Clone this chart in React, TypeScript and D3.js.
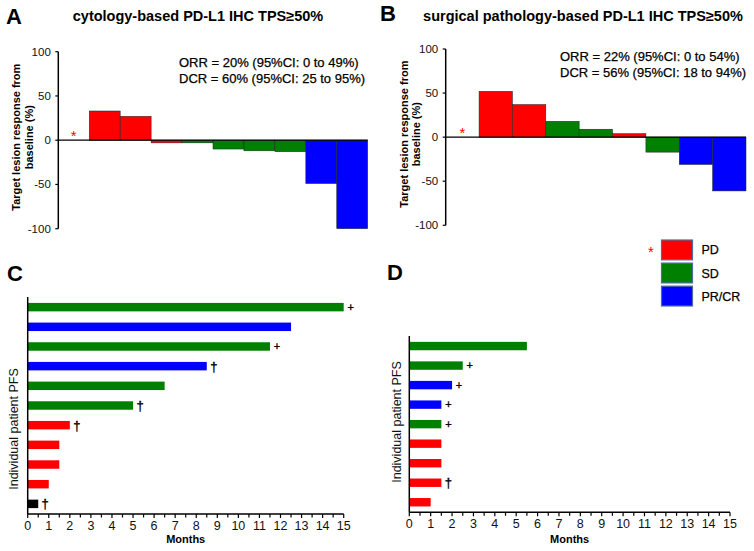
import React from 'react';
import * as d3 from 'd3';

const W = 754;
const H = 551;
const FONT = "'Liberation Sans', Arial, Helvetica, sans-serif";

// ---- Data ----
const responseTypes = ['PD', 'SD', 'PR', 'NE'];
const responseColors = ['#ff0000', '#008000', '#0000ff', '#000000'];
const legendLabels = ['PD', 'SD', 'PR/CR'];

// Panel A (cytology-based), null = PD without measurable change (asterisk)
const waterfallAValues: (number | null)[] = [null, 33, 27, -3, -3, -10, -12, -13, -49, -100];
const waterfallAResp = ['PD', 'PD', 'PD', 'PD', 'SD', 'SD', 'SD', 'SD', 'PR', 'PR'];
// Panel B (surgical pathology-based)
const waterfallBValues: (number | null)[] = [null, 52, 37, 18, 9, 4, -17, -31, -61];
const waterfallBResp = ['PD', 'PD', 'PD', 'SD', 'SD', 'PD', 'SD', 'PR', 'PR'];
const waterfallTicks = [-100, -50, 0, 50, 100];

const titleA = 'cytology-based PD-L1 IHC TPS≥50%';
const titleB = 'surgical pathology-based PD-L1 IHC TPS≥50%';
const statsA = ['ORR = 20% (95%CI: 0 to 49%)', 'DCR = 60% (95%CI: 25 to 95%)'];
const statsB = ['ORR = 22% (95%CI: 0 to 54%)', 'DCR = 56% (95%CI: 18 to 94%)'];

// Panel C PFS (months)
const pfsCMonths = [15, 12.5, 11.5, 8.5, 6.5, 5, 2, 1.5, 1.5, 1, 0.5];
const pfsCResp = ['SD', 'PR', 'SD', 'PR', 'SD', 'SD', 'PD', 'PD', 'PD', 'PD', 'NE'];
const pfsCMark = ['+', '', '+', '†', '', '†', '†', '', '', '', '†'];
// Panel D PFS (months)
const pfsDMonths = [5.5, 2.5, 2, 1.5, 1.5, 1.5, 1.5, 1.5, 1];
const pfsDResp = ['SD', 'SD', 'PR', 'PR', 'SD', 'PD', 'PD', 'PD', 'PD'];
const pfsDMark = ['', '+', '+', '+', '+', '', '', '†', ''];
const monthTicks = [0, 1, 2, 3, 4, 5, 6, 7, 8, 9, 10, 11, 12, 13, 14, 15];
const monthMinorTicks = [0.5, 1.5, 2.5, 3.5, 4.5, 5.5, 6.5, 7.5, 8.5, 9.5, 10.5, 11.5, 12.5, 13.5, 14.5];

const color = d3.scaleOrdinal<string, string>().domain(responseTypes).range(responseColors);

type WProps = {
  values: (number | null)[];
  resp: string[];
  x0: number;
  x1: number;
  yTop: number;
  yBot: number;
  title: string;
  titleX: number;
  stats: string[];
  statsX: number;
  statsY: number;
  letter: string;
  letterX: number;
  letterY: number;
};

function Waterfall(p: WProps) {
  const x = d3
    .scaleBand<number>()
    .domain(p.values.map((_, i) => i))
    .range([p.x0, p.x1])
    .padding(0);
  const y = d3.scaleLinear().domain([-100, 100]).range([p.yBot, p.yTop]);
  const y0 = y(0);
  return (
    <g>
      <text x={p.letterX} y={p.letterY} fontSize={22} fontWeight="bold" fontFamily={FONT}>
        {p.letter}
      </text>
      <text x={p.titleX} y={21} fontSize={14.5} fontWeight="bold" textAnchor="middle" fontFamily={FONT}>
        {p.title}
      </text>
      {p.stats.map((s, i) => (
        <text
          key={i}
          x={p.statsX}
          y={p.statsY + i * 15.5}
          fontSize={13}
          fontFamily={FONT}
          fill="#000"
          stroke="#000"
          strokeWidth={0.25}
        >
          {s}
        </text>
      ))}
      {p.values.map((v, i) =>
        v === null ? (
          <text
            key={i}
            x={(x(i) as number) + x.bandwidth() / 2}
            y={y0 + 1}
            fontSize={15}
            fill="#ff0000"
            textAnchor="middle"
            fontFamily={FONT}
          >
            *
          </text>
        ) : (
          <rect
            key={i}
            x={x(i)}
            width={x.bandwidth()}
            y={Math.min(y(v), y0)}
            height={Math.abs(y(v) - y0)}
            fill={color(p.resp[i])}
            stroke="#222"
            strokeWidth={0.5}
          />
        )
      )}
      <line x1={p.x0} x2={p.x1} y1={y0} y2={y0} stroke="#000" strokeWidth={1.2} />
      <line x1={p.x0} x2={p.x0} y1={y(100)} y2={y(-100)} stroke="#000" strokeWidth={1.5} />
      {waterfallTicks.map((t) => (
        <g key={t}>
          <line x1={p.x0 - 3} x2={p.x0} y1={y(t)} y2={y(t)} stroke="#000" strokeWidth={1.2} />
          <text
            x={p.x0 - 7.5}
            y={y(t)}
            dy="0.35em"
            fontSize={11.5}
            textAnchor="end"
            fontFamily={FONT}
            fill="#111"
          >
            {t}
          </text>
        </g>
      ))}
      <g transform={`translate(${p.x0 - 38},${y0 - 3}) rotate(-90)`}>
        <text x={0} y={0} fontSize={11} fontWeight="bold" textAnchor="middle" fontFamily={FONT}>
          Target lesion response from
        </text>
        <text x={0} y={12.5} fontSize={11} fontWeight="bold" textAnchor="middle" fontFamily={FONT}>
          baseline (%)
        </text>
      </g>
    </g>
  );
}

type PProps = {
  months: number[];
  resp: string[];
  marks: string[];
  x0: number;
  x1: number;
  yTop: number;
  yBot: number;
  letter: string;
  letterX: number;
  letterY: number;
  labelX: number;
  labelY: number;
};

function PFS(p: PProps) {
  const x = d3.scaleLinear().domain([0, 15]).range([p.x0, p.x1]);
  const y = d3
    .scaleBand<number>()
    .domain(p.months.map((_, i) => i))
    .range([p.yTop, p.yBot])
    .paddingInner(0.57)
    .paddingOuter(0.3);
  const bw = y.bandwidth();
  return (
    <g>
      <text x={p.letterX} y={p.letterY} fontSize={22} fontWeight="bold" fontFamily={FONT}>
        {p.letter}
      </text>
      {p.months.map((m, i) => (
        <rect key={i} x={x(0)} y={y(i)} width={x(m) - x(0)} height={bw} fill={color(p.resp[i])} />
      ))}
      {p.marks.map((mk, i) =>
        mk ? (
          <text
            key={i}
            x={x(p.months[i]) + 7}
            y={(y(i) as number) + bw / 2 + (mk === '+' ? 3.5 : 4.5)}
            fontSize={mk === '+' ? 11 : 13}
            textAnchor="middle"
            fontFamily={FONT}
            fill="#000"
            stroke="#000"
            strokeWidth={0.35}
            opacity={0.999}
          >
            {mk}
          </text>
        ) : null
      )}
      <line x1={p.x0} x2={p.x0} y1={p.yTop} y2={p.yBot} stroke="#000" strokeWidth={1.5} />
      <line x1={p.x0} x2={p.x1} y1={p.yBot} y2={p.yBot} stroke="#000" strokeWidth={1.5} />
      {monthTicks.map((t) => (
        <g key={t}>
          <line x1={x(t)} x2={x(t)} y1={p.yBot} y2={p.yBot + 4} stroke="#000" strokeWidth={1.2} />
          <text x={x(t)} y={p.yBot + 15.5} fontSize={12.5} textAnchor="middle" fontFamily={FONT} fill="#111">
            {t}
          </text>
        </g>
      ))}
      {monthMinorTicks.map((t) => (
        <line key={t} x1={x(t)} x2={x(t)} y1={p.yBot} y2={p.yBot + 3.5} stroke="#000" strokeWidth={1.2} />
      ))}
      <text
        x={(p.x0 + p.x1) / 2}
        y={543}
        fontSize={11}
        fontWeight="bold"
        textAnchor="middle"
        fontFamily={FONT}
      >
        Months
      </text>
      <text
        transform={`translate(${p.labelX},${p.labelY}) rotate(-90)`}
        fontSize={12.5}
        textAnchor="middle"
        dy="0.35em"
        fontFamily={FONT}
        fill="#111"
      >
        Individual patient PFS
      </text>
    </g>
  );
}

function Legend() {
  const y = d3.scaleBand<number>().domain(legendLabels.map((_, i) => i)).range([240, 306]).paddingInner(0.14);
  const legendColors = ['PD', 'SD', 'PR'];
  return (
    <g>
      <text x={651} y={257} fontSize={15} fill="#ff0000" textAnchor="middle" fontFamily={FONT}>
        *
      </text>
      {legendLabels.map((l, i) => (
        <g key={l}>
          <rect
            x={661.5}
            y={y(i)}
            width={31}
            height={y.bandwidth()}
            fill={color(legendColors[i])}
            stroke="#4f6d9a"
            strokeWidth={1.2}
          />
          <text
            x={701.5}
            y={(y(i) as number) + y.bandwidth() / 2}
            dy="0.36em"
            fontSize={12.5}
            fontFamily={FONT}
            fill="#000"
            stroke="#000"
            strokeWidth={0.25}
          >
            {l}
          </text>
        </g>
      ))}
    </g>
  );
}

export default function App() {
  return (
    <svg width={W} height={H} style={{ position: 'absolute', left: 0, top: 0, background: '#fff' }}>
      <rect width={W} height={H} fill="#fff" />
      <Waterfall
        values={waterfallAValues}
        resp={waterfallAResp}
        x0={58.3}
        x1={367.7}
        yTop={51.7}
        yBot={228.7}
        title={titleA}
        titleX={198}
        stats={statsA}
        statsX={179}
        statsY={67}
        letter="A"
        letterX={6}
        letterY={24}
      />
      <Waterfall
        values={waterfallBValues}
        resp={waterfallBResp}
        x0={445.7}
        x1={746}
        yTop={49}
        yBot={225.3}
        title={titleB}
        titleX={583}
        stats={statsB}
        statsX={560}
        statsY={61}
        letter="B"
        letterX={380}
        letterY={21}
      />
      <Legend />
      <PFS
        months={pfsCMonths}
        resp={pfsCResp}
        marks={pfsCMark}
        x0={27.7}
        x1={343.7}
        yTop={297}
        yBot={514}
        letter="C"
        letterX={7}
        letterY={281}
        labelX={13.5}
        labelY={429}
      />
      <PFS
        months={pfsDMonths}
        resp={pfsDResp}
        marks={pfsDMark}
        x0={409.3}
        x1={730}
        yTop={336}
        yBot={512.3}
        letter="D"
        letterX={387}
        letterY={280}
        labelX={397}
        labelY={422}
      />
    </svg>
  );
}
